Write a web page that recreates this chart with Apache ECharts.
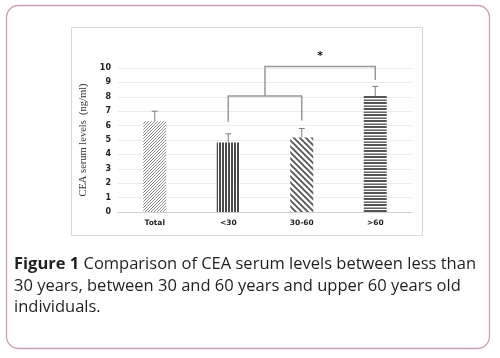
<!DOCTYPE html>
<html><head><meta charset="utf-8">
<script src="https://cdn.jsdelivr.net/npm/echarts@6/dist/echarts.min.js"></script>
<style>html,body{margin:0;padding:0;background:#fff}#c{width:500px;height:358px}</style>
</head><body><div id="c"></div>
<script>
// ---- data ----
const categories = ['Total', '<30', '30-60', '>60'];
const means = [6.3, 4.83, 5.18, 8.05];
const errUpper = [7.0, 5.43, 5.8, 8.72];
const yTicks = [0, 10, 1];            // min, max, interval
const axisTitle = 'CEA serum levels  (ng/ml)';
// brackets: [leftCat, leftBottom, rightCat, rightBottom, top]
const brackets = [
  [1, 6.27, 2, 6.35, 8.05],
  [1.5, 8.05, 3, 9.17, 10.1]
];
const sigMark = { x: 2.25, y: 10.85, label: '*' };
const caption = [
  ['Figure 1', ' Comparison of CEA serum levels between less than'],
  ['', '30 years, between 30 and 60 years and upper 60 years old'],
  ['', 'individuals.']
];

// ---- patterns ----
function pat(w, h, draw) {
  const c = document.createElement('canvas'); c.width = w; c.height = h;
  const g = c.getContext('2d'); g.fillStyle = '#fff'; g.fillRect(0, 0, w, h); draw(g);
  return { image: c, repeat: 'repeat' };
}
const patterns = [
  pat(3, 3, g => { g.strokeStyle = '#8c8c8c'; g.lineWidth = 1;
    g.beginPath(); g.moveTo(0, 3); g.lineTo(3, 0); g.moveTo(-1, 1); g.lineTo(1, -1); g.moveTo(2, 4); g.lineTo(4, 2); g.stroke(); }),
  pat(3, 4, g => { g.fillStyle = '#4a4a4a'; g.fillRect(0, 0, 2, 4); }),
  pat(6, 6, g => { g.strokeStyle = '#555'; g.lineWidth = 1.8;
    g.beginPath(); for (let k = -2; k <= 2; k++) { g.moveTo(k * 6 - 1, -1); g.lineTo(k * 6 + 7, 7); } g.stroke(); }),
  pat(4, 6, g => { g.fillStyle = '#555'; g.fillRect(0, 0, 4, 2); g.fillStyle = '#aaa'; g.fillRect(0, 3, 4, 1); g.fillStyle = '#666'; g.fillRect(0, 4, 4, 1); })
];

const chart = echarts.init(document.getElementById('c'), null, { renderer: 'canvas' });
const gridL = 118, gridT = 68, gridW = 294, gridH = 144;

// pixel x for a (possibly fractional) category position
function catX(api, c, y) {
  const i = Math.floor(c), f = c - i;
  const p = api.coord([i, y]);
  if (f === 0) return p;
  const q = api.coord([i + 1, y]);
  return [p[0] + f * (q[0] - p[0]), p[1]];
}

chart.setOption({
  animation: false,
  graphic: [
    { type: 'rect', shape: { x: 6.5, y: 5.5, width: 483, height: 343, r: 12 }, style: { fill: 'none', stroke: '#c9a0b8', lineWidth: 1.3 }, z: 0 },
    { type: 'rect', shape: { x: 71.5, y: 27.5, width: 351, height: 208 }, style: { fill: 'none', stroke: '#d9d9d9', lineWidth: 1 }, z: 0 },
  ].concat(caption.map((ln, i) => ({
    type: 'text', left: 14, top: 256 + i * 21.5,
    style: {
      text: (ln[0] ? '{b|' + ln[0] + '}' : '') + '{n|' + ln[1] + '}',
      rich: {
        b: { fontFamily: 'Open Sans', fontWeight: 'bold', fontSize: 16.5, fill: '#231f20' },
        n: { fontFamily: 'Open Sans', fontSize: 16.5, fill: '#231f20' }
      }
    }
  }))),
  grid: { left: gridL, top: gridT, width: gridW, height: gridH },
  xAxis: {
    type: 'category', data: categories,
    axisLine: { lineStyle: { color: '#d0d0d0' } }, axisTick: { show: false },
    axisLabel: { fontFamily: 'DejaVu Sans', fontWeight: 'bold', fontSize: 7.5, color: '#222', margin: 7 }
  },
  yAxis: {
    type: 'value', min: yTicks[0], max: yTicks[1], interval: yTicks[2],
    name: axisTitle, nameLocation: 'middle', nameGap: 28,
    nameTextStyle: { fontFamily: 'Liberation Serif', fontSize: 10.5, color: '#333' },
    axisLine: { show: false }, axisTick: { show: false },
    splitLine: { lineStyle: { color: '#ececec' } },
    axisLabel: { fontFamily: 'DejaVu Sans', fontWeight: 'bold', fontSize: 8, color: '#222', margin: 7 }
  },
  series: [
    {
      type: 'bar', barWidth: 23,
      data: means.map((v, i) => ({ value: v, itemStyle: { color: patterns[i] } })),
      z: 2
    },
    {
      type: 'custom', z: 3,
      data: means.map((v, i) => [i, v, errUpper[i]]),
      renderItem: (params, api) => {
        const p0 = api.coord([api.value(0), api.value(1)]);
        const p1 = api.coord([api.value(0), api.value(2)]);
        const st = { stroke: '#7f7f7f', lineWidth: 1 };
        return { type: 'group', children: [
          { type: 'line', shape: { x1: p0[0], y1: p0[1], x2: p1[0], y2: p1[1] }, style: st },
          { type: 'line', shape: { x1: p1[0] - 3, y1: p1[1], x2: p1[0] + 3, y2: p1[1] }, style: st }
        ] };
      }
    },
    {
      type: 'custom', z: 3, clip: false,
      data: brackets,
      renderItem: (params, api) => {
        const a = catX(api, api.value(0), api.value(1));
        const at = catX(api, api.value(0), api.value(4));
        const b = catX(api, api.value(2), api.value(3));
        const bt = catX(api, api.value(2), api.value(4));
        return { type: 'polyline', shape: { points: [a, at, bt, b] },
          style: { stroke: '#999', lineWidth: 1.5, fill: 'none' } };
      }
    },
    {
      type: 'custom', z: 3, clip: false,
      data: [[sigMark.x, sigMark.y]],
      renderItem: (params, api) => {
        const p = catX(api, api.value(0), api.value(1));
        return { type: 'text', x: p[0], y: p[1], style: { text: sigMark.label, fontSize: 11, fontWeight: 'bold', fontFamily: 'DejaVu Sans', fill: '#111', align: 'center', verticalAlign: 'middle' } };
      }
    }
  ]
});
</script></body></html>
